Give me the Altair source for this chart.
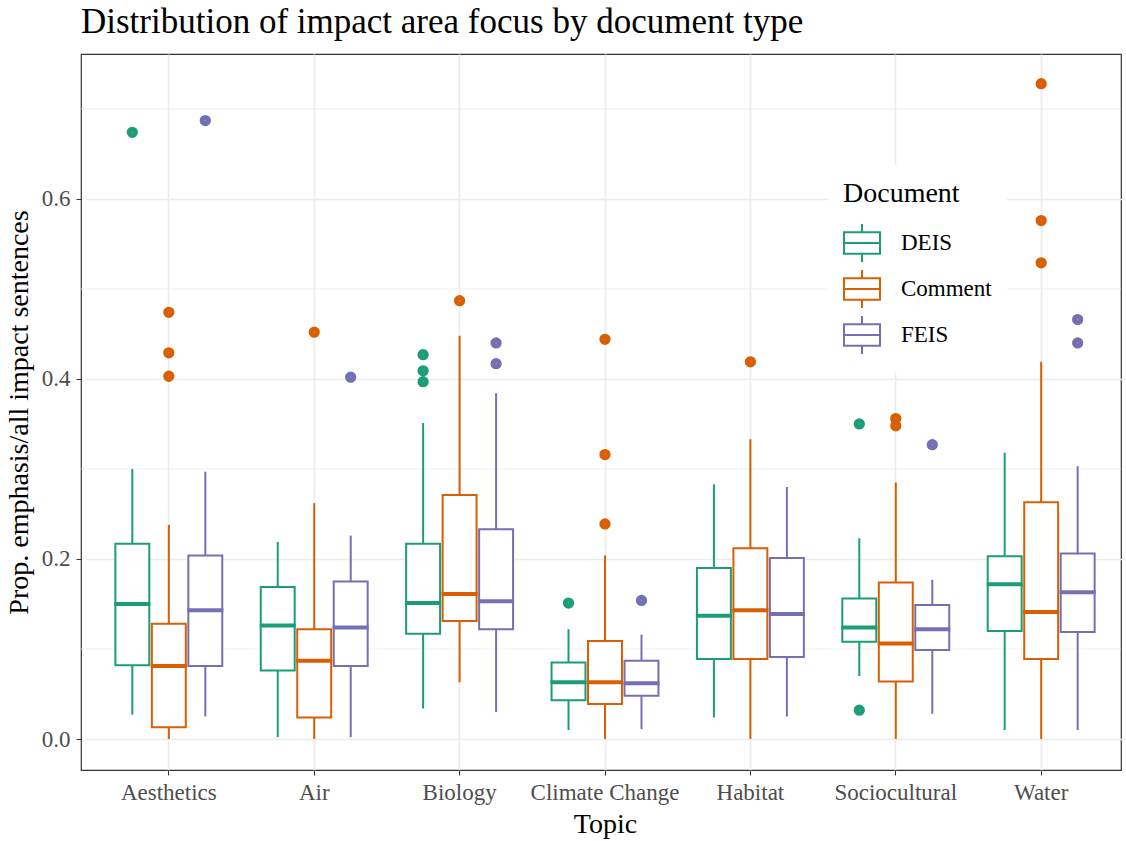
import altair as alt
import pandas as pd

topics = ["Aesthetics", "Air", "Biology", "Climate Change", "Habitat", "Sociocultural", "Water"]
documents = ["DEIS", "Comment", "FEIS"]
colors = ["#1B9E77", "#D95F02", "#7570B3"]

# stats per topic, in order DEIS, Comment, FEIS
whisker_low = [0.027, 0.000, 0.025,
               0.002, 0.000, 0.002,
               0.034, 0.063, 0.030,
               0.010, 0.000, 0.011,
               0.024, 0.000, 0.025,
               0.070, 0.000, 0.028,
               0.010, 0.000, 0.010]
q1 = [0.082, 0.013, 0.081,
      0.076, 0.024, 0.081,
      0.117, 0.131, 0.122,
      0.043, 0.039, 0.048,
      0.089, 0.089, 0.091,
      0.108, 0.064, 0.099,
      0.120, 0.089, 0.119]
median = [0.150, 0.081, 0.143,
          0.126, 0.087, 0.124,
          0.151, 0.161, 0.153,
          0.063, 0.063, 0.062,
          0.137, 0.143, 0.139,
          0.124, 0.106, 0.122,
          0.172, 0.141, 0.163]
q3 = [0.217, 0.128, 0.204,
      0.169, 0.122, 0.175,
      0.217, 0.271, 0.233,
      0.085, 0.109, 0.087,
      0.190, 0.212, 0.201,
      0.156, 0.174, 0.149,
      0.203, 0.263, 0.206]
whisker_high = [0.300, 0.238, 0.297,
                0.219, 0.262, 0.226,
                0.351, 0.448, 0.384,
                0.122, 0.204, 0.116,
                0.283, 0.333, 0.280,
                0.223, 0.285, 0.177,
                0.318, 0.419, 0.303]

outlier_topic = ["Aesthetics", "Aesthetics", "Aesthetics", "Aesthetics", "Aesthetics",
                 "Air", "Air",
                 "Biology", "Biology", "Biology", "Biology", "Biology", "Biology",
                 "Climate Change", "Climate Change", "Climate Change", "Climate Change", "Climate Change",
                 "Habitat",
                 "Sociocultural", "Sociocultural", "Sociocultural", "Sociocultural", "Sociocultural",
                 "Water", "Water", "Water", "Water", "Water"]
outlier_doc = ["DEIS", "Comment", "Comment", "Comment", "FEIS",
               "Comment", "FEIS",
               "DEIS", "DEIS", "DEIS", "Comment", "FEIS", "FEIS",
               "DEIS", "Comment", "Comment", "Comment", "FEIS",
               "Comment",
               "DEIS", "DEIS", "Comment", "Comment", "FEIS",
               "Comment", "Comment", "Comment", "FEIS", "FEIS"]
outlier_value = [0.674, 0.474, 0.429, 0.403, 0.687,
                 0.452, 0.402,
                 0.427, 0.409, 0.397, 0.487, 0.440, 0.417,
                 0.151, 0.444, 0.316, 0.239, 0.154,
                 0.419,
                 0.350, 0.032, 0.356, 0.348, 0.327,
                 0.728, 0.576, 0.529, 0.466, 0.440]

minor_grid = [0.1, 0.3, 0.5, 0.7]

rows = []
i = 0
for t in topics:
    for d in documents:
        rows.append({"Topic": t, "Document": d, "lo": whisker_low[i], "q1": q1[i],
                     "med": median[i], "q3": q3[i], "hi": whisker_high[i]})
        i += 1
stats = pd.DataFrame(rows)
outl = pd.DataFrame({"Topic": outlier_topic, "Document": outlier_doc, "value": outlier_value})
minor = pd.DataFrame({"v": minor_grid})

FONT = "Liberation Serif"
ydom = [-0.0344, 0.761]

x_enc = alt.X("Topic:N", sort=topics, title="Topic",
              scale=alt.Scale(paddingInner=0.247, paddingOuter=0.2, range=[4, 1044]))
xo_enc = alt.XOffset("Document:N", sort=documents,
                     scale=alt.Scale(paddingInner=0.07, paddingOuter=0.035))
stroke_scale = alt.Scale(domain=documents, range=colors)

legend_path = "M-1,-0.6H1V0.6H-1Z M-1,0H1 M0,-0.6V-1.05 M0,0.6V1.05"
doc_legend = alt.Legend(title="Document", orient="none", legendX=747, legendY=111,
                        symbolType=legend_path, symbolStrokeWidth=2, symbolSize=1296,
                        symbolFillColor="white")
stroke_enc = alt.Stroke("Document:N", sort=documents, scale=stroke_scale, legend=doc_legend)

grid_minor = alt.Chart(minor).mark_rule(color="#EBEBEB", strokeWidth=0.8).encode(
    y=alt.Y("v:Q", scale=alt.Scale(domain=ydom, nice=False, zero=False))
)

whiskers = alt.Chart(stats).mark_rule(strokeWidth=2).encode(
    x=x_enc, xOffset=xo_enc,
    y=alt.Y("lo:Q", scale=alt.Scale(domain=ydom, nice=False, zero=False),
            title="Prop. emphasis/all impact sentences",
            axis=alt.Axis(values=[0.0, 0.2, 0.4, 0.6], format=".1f")),
    y2="hi:Q",
    stroke=stroke_enc,
)

box_fill = alt.Chart(stats).mark_bar(fill="white", strokeWidth=0, opacity=1).encode(
    x=x_enc, xOffset=xo_enc,
    y="q1:Q", y2="q3:Q",
)

boxes = alt.Chart(stats).mark_bar(filled=False, strokeWidth=2).encode(
    x=x_enc, xOffset=xo_enc,
    y="q1:Q", y2="q3:Q",
    stroke=stroke_enc,
)

medians = alt.Chart(stats).mark_tick(size=33, thickness=1, filled=False,
                                      strokeWidth=3, opacity=1).encode(
    x=x_enc, xOffset=xo_enc,
    y="med:Q",
    stroke=stroke_enc,
)

points = alt.Chart(outl).mark_circle(size=28, filled=False, strokeWidth=6, opacity=1).encode(
    x=x_enc, xOffset=xo_enc,
    y="value:Q",
    stroke=stroke_enc,
)

chart = alt.layer(grid_minor, whiskers, box_fill, boxes, medians, points).properties(
    width=1040, height=716,
    title=alt.TitleParams("Distribution of impact area focus by document type",
                          anchor="start", frame="group", font=FONT, fontSize=35,
                          fontWeight="normal", color="black", offset=14),
    padding={"left": 81, "top": 54, "right": 5, "bottom": 71},
    autosize=alt.AutoSizeParams(type="none"),
).configure_view(
    stroke="#333333", strokeWidth=1.2
).configure_axis(
    labelFont=FONT, titleFont=FONT, labelFontSize=23, titleFontSize=28,
    labelColor="#4D4D4D", titleColor="black", titleFontWeight="normal",
    gridColor="#EBEBEB", gridWidth=1.6, tickColor="#333333", tickSize=5,
    domain=False, bandPosition=0.5,
).configure_axisX(
    labelAngle=0, labelPadding=6, titlePadding=6, grid=True,
).configure_axisY(
    labelPadding=6, titlePadding=8,
).configure_legend(
    titleFont=FONT, labelFont=FONT, titleFontSize=28, labelFontSize=23,
    titleFontWeight="normal", titleColor="black", labelColor="black",
    fillColor="white", padding=15, rowPadding=0,
    labelOffset=20, titlePadding=16, symbolFillColor="white",
)

chart.save("out.html", embed_options={"renderer": "svg", "actions": False})
